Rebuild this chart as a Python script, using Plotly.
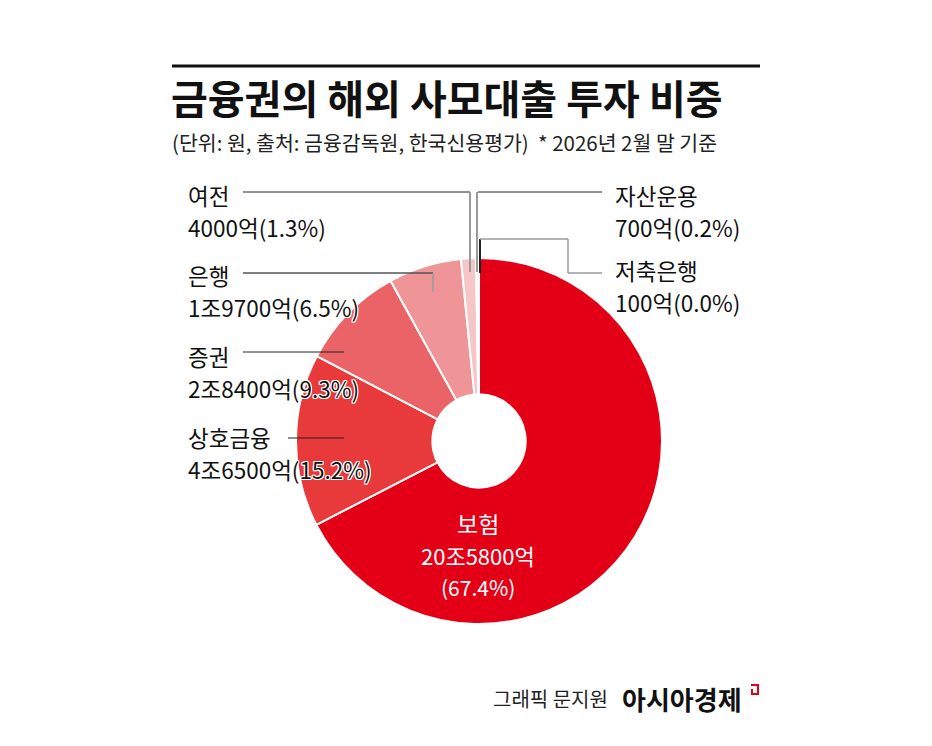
import plotly.graph_objects as go

# 금융권 해외 사모대출 투자 (억원), 2026년 2월 말
sectors = ["보험", "상호금융", "증권", "은행", "여전", "자산운용", "저축은행"]
amounts = [205800, 46500, 28400, 19700, 4000, 700, 100]
amount_labels = ["20조5800억", "4조6500억", "2조8400억", "1조9700억", "4000억", "700억", "100억"]
shares = ["67.4%", "15.2%", "9.3%", "6.5%", "1.3%", "0.2%", "0.0%"]
colors = ["#E30016", "#E8393B", "#EA6467", "#EF9597", "#F6C5C7", "#F9DCDD", "#FDEEEE"]

# page has an 8px body margin, so the figure is a bit smaller than the window
OFF = 8
W, H = 932 - 2 * OFF, 746 - 2 * OFF
FONT = "Noto Sans CJK KR"


def px(x):
    return (x - OFF) / W


def py(y):
    return 1 - (y - OFF) / H


fig = go.Figure()

# pie centre (479, 441), radius 183 in window pixels
cx, cy, r = 479, 441, 183
fig.add_trace(go.Pie(
    labels=sectors,
    values=amounts,
    sort=False,
    direction="clockwise",
    rotation=0,
    hole=0.255,
    marker=dict(colors=colors, line=dict(color="white", width=2)),
    textinfo="none",
    hovertemplate="%{label}: %{value}억<extra></extra>",
    showlegend=False,
    domain=dict(x=[px(cx - r), px(cx + r)], y=[py(cy + r), py(cy - r)]),
))

shapes = []


def seg(x0, y0, x1, y1, color="#222222", width=1):
    shapes.append(dict(type="line", xref="paper", yref="paper",
                       x0=px(x0), y0=py(y0), x1=px(x1), y1=py(y1),
                       line=dict(color=color, width=width)))


# top rule
seg(172, 66, 760, 66, "#111111", 3)

# leader lines
GRAY = "#9a9a9a"
seg(243, 192, 470, 192)             # 여전
seg(470, 192, 470, 272, GRAY, 2)
seg(478, 192, 602, 192)             # 자산운용
seg(477, 192, 477, 272, GRAY, 2)
seg(480, 239, 480, 273, "#222222", 2)  # 저축은행
seg(480, 239, 568, 239, GRAY, 1.5)
seg(568, 239, 568, 273, GRAY, 1.5)
seg(568, 273, 602, 273, GRAY, 1.5)
seg(243, 273, 433, 273, "#555555", 1.5)  # 은행
seg(433, 273, 433, 292, GRAY, 1.5)
seg(243, 352, 344, 352)             # 증권
seg(288, 438, 344, 438)             # 상호금융

# red logo mark
shapes.append(dict(type="path", xref="paper", yref="paper",
                   path=f"M {px(751)},{py(685)} L {px(758)},{py(685)} L {px(758)},{py(694)} L {px(752)},{py(694)} L {px(752)},{py(689)}",
                   line=dict(color="#E60012", width=2)))

annotations = []
OUTLINE = "1px 1px 0 #fff, -1px -1px 0 #fff, 1px -1px 0 #fff, -1px 1px 0 #fff, 0 1px 0 #fff, 0 -1px 0 #fff, 1px 0 0 #fff, -1px 0 0 #fff"


def text(x, y, s, size, color="#111111", anchor="left", weight="normal", shadow="none"):
    annotations.append(dict(
        x=px(x), y=py(y), xref="paper", yref="paper", text=s, showarrow=False,
        xanchor=anchor, yanchor="middle",
        font=dict(family=FONT, size=size, color=color, weight=weight, shadow=shadow),
    ))


text(169, 97, "금융권의 해외 사모대출 투자 비중", 40, weight="bold")
text(170, 142, "(단위: 원, 출처: 금융감독원, 한국신용평가)  * 2026년 2월 말 기준", 20.5, color="#222222")

# side labels: (index, x, y of name, y of value)
side = [(4, 186, 195, 227), (3, 186, 275, 307), (2, 186, 356, 388), (1, 186, 437, 469),
        (5, 613, 195, 227), (6, 613, 270, 302)]
for i, x, yn, yv in side:
    text(x, yn, sectors[i], 22.5, shadow=OUTLINE)
    text(x, yv, f"{amount_labels[i]}({shares[i]})", 22.5, shadow=OUTLINE)

# 보험 label inside the slice
text(478, 523, sectors[0], 23, color="white", anchor="center")
text(478, 555, amount_labels[0], 22, color="white", anchor="center")
text(478, 587, f"({shares[0]})", 21, color="white", anchor="center")

# footer
text(610, 698, "그래픽 문지원", 20, color="#222222", anchor="right")
text(620, 698, "아시아경제", 26, weight="bold")

fig.update_layout(
    width=W,
    height=H,
    margin=dict(l=0, r=0, t=0, b=0),
    paper_bgcolor="white",
    plot_bgcolor="white",
    shapes=shapes,
    annotations=annotations,
)

fig.write_html("out.html")
